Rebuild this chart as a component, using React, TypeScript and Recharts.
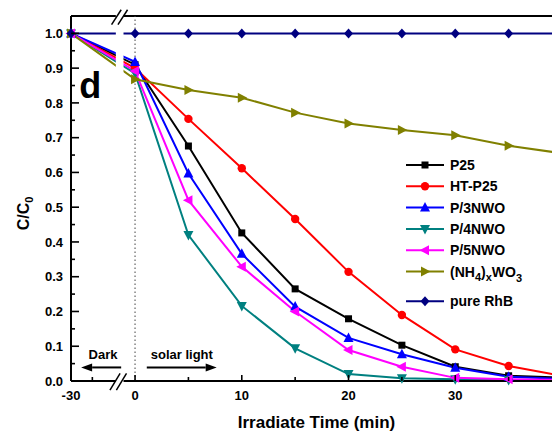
import React from 'react';
import {
  LineChart,
  Line,
  XAxis,
  YAxis,
  ReferenceLine,
  ReferenceArea,
  ReferenceDot,
  Legend,
} from 'recharts';

const FONT = '"Liberation Sans", Arial, Helvetica, sans-serif';

// irradiation time in min, -30 is the start of the dark adsorption step
const TIME = [-30, 0, 5, 10, 15, 20, 25, 30, 35, 40];

// C/C0
const P25 = [1.0, 0.91, 0.676, 0.426, 0.265, 0.179, 0.103, 0.041, 0.015, 0.01];
const HT_P25 = [1.0, 0.9, 0.754, 0.612, 0.466, 0.314, 0.19, 0.091, 0.043, 0.015];
const P3NWO = [1.0, 0.918, 0.597, 0.366, 0.214, 0.124, 0.077, 0.038, 0.012, 0.006];
const P4NWO = [1.0, 0.885, 0.42, 0.216, 0.094, 0.02, 0.008, 0.005, 0.003, 0.003];
const P5NWO = [1.0, 0.892, 0.52, 0.329, 0.2, 0.089, 0.041, 0.009, 0.005, 0.003];
const NH4WO3 = [1.0, 0.868, 0.837, 0.815, 0.772, 0.741, 0.722, 0.707, 0.677, 0.655];
const RHB = [1.0, 1.0, 1.0, 1.0, 1.0, 1.0, 1.0, 1.0, 1.0, 1.0];

const X_TICKS = [-30, -20, 0, 5, 10, 15, 20, 25, 30, 35];
const X_LABELS = [-30, 0, 10, 20, 30];
const Y_TICKS = [
  0, 0.05, 0.1, 0.15, 0.2, 0.25, 0.3, 0.35, 0.4, 0.45, 0.5,
  0.55, 0.6, 0.65, 0.7, 0.75, 0.8, 0.85, 0.9, 0.95, 1.0,
];

// the dark period is squeezed 5x on the broken axis
const toAxis = (t: number) => (t < 0 ? t / 5 : t);
const fromAxis = (v: number) => (v < 0 ? Math.round(v * 5) : v);

type Shape = 'square' | 'circle' | 'up' | 'down' | 'left' | 'right' | 'diamond';

interface Series {
  key: string;
  name: string;
  color: string;
  shape: Shape;
  values: number[];
}

const SERIES: Series[] = [
  { key: 'p25', name: 'P25', color: '#000000', shape: 'square', values: P25 },
  { key: 'htp25', name: 'HT-P25', color: '#ff0000', shape: 'circle', values: HT_P25 },
  { key: 'p3', name: 'P/3NWO', color: '#0000ff', shape: 'up', values: P3NWO },
  { key: 'p4', name: 'P/4NWO', color: '#008080', shape: 'down', values: P4NWO },
  { key: 'p5', name: 'P/5NWO', color: '#ff00ff', shape: 'left', values: P5NWO },
  { key: 'nh4', name: '(NH4)xWO3', color: '#808000', shape: 'right', values: NH4WO3 },
  { key: 'rhb', name: 'pure RhB', color: '#000080', shape: 'diamond', values: RHB },
];

const rows = TIME.map((t, i) => {
  const row: Record<string, number> = { x: toAxis(t) };
  SERIES.forEach((s) => {
    row[s.key] = s.values[i];
  });
  return row;
});

function Marker({ shape, cx, cy, color }: { shape: Shape; cx: number; cy: number; color: string }) {
  switch (shape) {
    case 'square':
      return <rect x={cx - 3.5} y={cy - 3.5} width={7} height={7} fill={color} />;
    case 'circle':
      return <circle cx={cx} cy={cy} r={4.2} fill={color} />;
    case 'up':
      return <polygon points={`${cx},${cy - 5.5} ${cx - 5},${cy + 4} ${cx + 5},${cy + 4}`} fill={color} />;
    case 'down':
      return <polygon points={`${cx},${cy + 5.5} ${cx - 5},${cy - 4} ${cx + 5},${cy - 4}`} fill={color} />;
    case 'left':
      return <polygon points={`${cx - 5.5},${cy} ${cx + 4},${cy - 5} ${cx + 4},${cy + 5}`} fill={color} />;
    case 'right':
      return <polygon points={`${cx + 5.5},${cy} ${cx - 4},${cy - 5} ${cx - 4},${cy + 5}`} fill={color} />;
    default:
      return <polygon points={`${cx},${cy - 5} ${cx + 4.5},${cy} ${cx},${cy + 5} ${cx - 4.5},${cy}`} fill={color} />;
  }
}

const SeriesLabel = ({ name }: { name: string }) => {
  if (name !== '(NH4)xWO3') return <>{name}</>;
  return (
    <>
      (NH
      <tspan dy={4} fontSize={11}>4</tspan>
      <tspan dy={-4}>)</tspan>
      <tspan dy={4} fontSize={11}>x</tspan>
      <tspan dy={-4}>WO</tspan>
      <tspan dy={5} fontSize={11}>3</tspan>
    </>
  );
};

const renderLegend = () => (
  <svg width={152} height={165} style={{ fontFamily: FONT, display: 'block' }}>
    {SERIES.map((s, i) => {
      const y = 15 + i * 21.3 + (i === SERIES.length - 1 ? 8.5 : 0);
      return (
        <g key={s.key}>
          <line x1={6} x2={44} y1={y} y2={y} stroke={s.color} strokeWidth={2} />
          <Marker shape={s.shape} cx={25} cy={y} color={s.color} />
          <text x={50} y={y + 5} fontSize={14} fontWeight="bold" fill="#000">
            <SeriesLabel name={s.name} />
          </text>
        </g>
      );
    })}
  </svg>
);

const XTick = (props: any) => {
  const { x, y, payload } = props;
  const t = fromAxis(payload.value);
  const major = X_LABELS.includes(t);
  return (
    <g>
      <line x1={x} x2={x} y1={y} y2={y - (major ? 6 : 4)} stroke="#000" strokeWidth={1.6} />
      {major && (
        <text x={x} y={y + 19} textAnchor="middle" fontSize={13} fontWeight="bold" fill="#000" fontFamily={FONT}>
          {t}
        </text>
      )}
    </g>
  );
};

const YTick = (props: any) => {
  const { x, y, payload } = props;
  const v: number = payload.value;
  const major = Math.round(v * 100) % 10 === 0;
  return (
    <g>
      <line x1={x} x2={x + (major ? 8 : 4)} y1={y} y2={y} stroke="#000" strokeWidth={1.6} />
      {major && (
        <text x={x - 8} y={y} dy="0.36em" textAnchor="end" fontSize={13} fontWeight="bold" fill="#000" fontFamily={FONT}>
          {v.toFixed(1)}
        </text>
      )}
    </g>
  );
};

const Arrow = (p: any) => {
  const { x1, y1, x2, y2 } = p;
  const dir = Math.sign(x2 - x1);
  const head = 11;
  return (
    <g>
      <line x1={x1} y1={y1} x2={x2 - dir * head} y2={y2} stroke="#000" strokeWidth={2} />
      <polygon points={`${x2},${y2} ${x2 - dir * head},${y2 - 4} ${x2 - dir * head},${y2 + 4}`} fill="#000" />
    </g>
  );
};

const textShape = (text: string, size: number, anchor = 'middle') => (p: any) => (
  <text x={p.cx} y={p.cy} textAnchor={anchor} fontSize={size} fontWeight="bold" fill="#000" fontFamily={FONT}>
    {text}
  </text>
);

export default function App() {
  const topZ: any = { zIndex: 2000 };
  const slashZ: any = { zIndex: 2100 };
  return (
    <div
      style={{
        position: 'fixed',
        left: 0,
        top: 0,
        width: 552,
        height: 431,
        overflow: 'hidden',
        background: '#fff',
        fontFamily: FONT,
      }}
    >
      <LineChart width={572} height={431} data={rows} margin={{ top: 16, right: 10, bottom: 0, left: 0 }}>
        <XAxis
          dataKey="x"
          type="number"
          domain={[-6, 40]}
          ticks={X_TICKS.map(toAxis)}
          interval={0}
          height={50}
          tickSize={0}
          tickMargin={0}
          tickLine={false}
          tick={<XTick />}
          axisLine={{ stroke: '#000', strokeWidth: 2 }}
          label={{
            content: (p: any) => {
              const vb = p.viewBox || { x: 71, y: 381, width: 491, height: 50 };
              return (
                <text x={vb.x + vb.width / 2} y={vb.y + 47} textAnchor="middle" fontSize={17} fontWeight="bold" fill="#000" fontFamily={FONT}>
                  Irradiate Time (min)
                </text>
              );
            },
          }}
        />
        <YAxis
          type="number"
          domain={[0, 1.05]}
          ticks={Y_TICKS}
          interval={0}
          width={71}
          tickSize={0}
          tickMargin={0}
          tickLine={false}
          tick={<YTick />}
          axisLine={{ stroke: '#000', strokeWidth: 2 }}
          label={{
            content: (p: any) => {
              const vb = p.viewBox || { x: 0, y: 16, width: 71, height: 365 };
              const cx = vb.x + 29;
              const cy = vb.y + vb.height / 2 + 15;
              return (
                <text x={cx} y={cy} transform={`rotate(-90 ${cx} ${cy})`} textAnchor="middle" fontSize={16} fontWeight="bold" fill="#000" fontFamily={FONT}>
                  C/C<tspan dy={4} fontSize={11}>0</tspan>
                </text>
              );
            },
          }}
        />
        <ReferenceLine y={1.05} stroke="#000" strokeWidth={2} />
        <ReferenceLine x={0} stroke="#444" strokeWidth={1} strokeDasharray="1.5 2.5" />
        {SERIES.map((s) => (
          <Line
            key={s.key}
            dataKey={s.key}
            name={s.name}
            type="linear"
            stroke={s.color}
            strokeWidth={2}
            isAnimationActive={false}
            activeDot={false}
            dot={(p: any) => <Marker key={`${s.key}-${p.index}`} shape={s.shape} cx={p.cx} cy={p.cy} color={s.color} />}
          />
        ))}
        {/* axis break */}
        <ReferenceArea {...topZ} x1={-1.8} x2={-1.08} y1={-0.035} y2={1.075} fill="#fff" fillOpacity={1} stroke="none" ifOverflow="visible" />
        <ReferenceLine {...slashZ} segment={[{ x: -2.2, y: 1.025 }, { x: -1.3, y: 1.068 }]} stroke="#000" strokeWidth={1.5} ifOverflow="visible" />
        <ReferenceLine {...slashZ} segment={[{ x: -1.6, y: 1.025 }, { x: -0.7, y: 1.068 }]} stroke="#000" strokeWidth={1.5} ifOverflow="visible" />
        <ReferenceLine {...slashZ} segment={[{ x: -2.35, y: -0.026 }, { x: -1.4, y: 0.022 }]} stroke="#000" strokeWidth={1.5} ifOverflow="visible" />
        <ReferenceLine {...slashZ} segment={[{ x: -1.75, y: -0.026 }, { x: -0.8, y: 0.022 }]} stroke="#000" strokeWidth={1.5} ifOverflow="visible" />
        {/* dark / light annotations */}
        <ReferenceLine {...slashZ} segment={[{ x: -1.3, y: 0.039 }, { x: -5.05, y: 0.039 }]} shape={Arrow} />
        <ReferenceLine {...slashZ} segment={[{ x: 1.1, y: 0.039 }, { x: 7.65, y: 0.039 }]} shape={Arrow} />
        <ReferenceDot {...slashZ} x={-3.0} y={0.062} r={0} shape={textShape('Dark', 13)} />
        <ReferenceDot {...slashZ} x={4.38} y={0.062} r={0} shape={textShape('solar light', 13)} />
        <ReferenceDot {...slashZ} x={-4.2} y={0.814} r={0} shape={textShape('d', 36)} />
        <Legend
          layout="horizontal"
          verticalAlign="middle"
          align="center"
          content={renderLegend}
          wrapperStyle={{ left: 400, top: 150, width: 152, height: 165 }}
        />
      </LineChart>
    </div>
  );
}
